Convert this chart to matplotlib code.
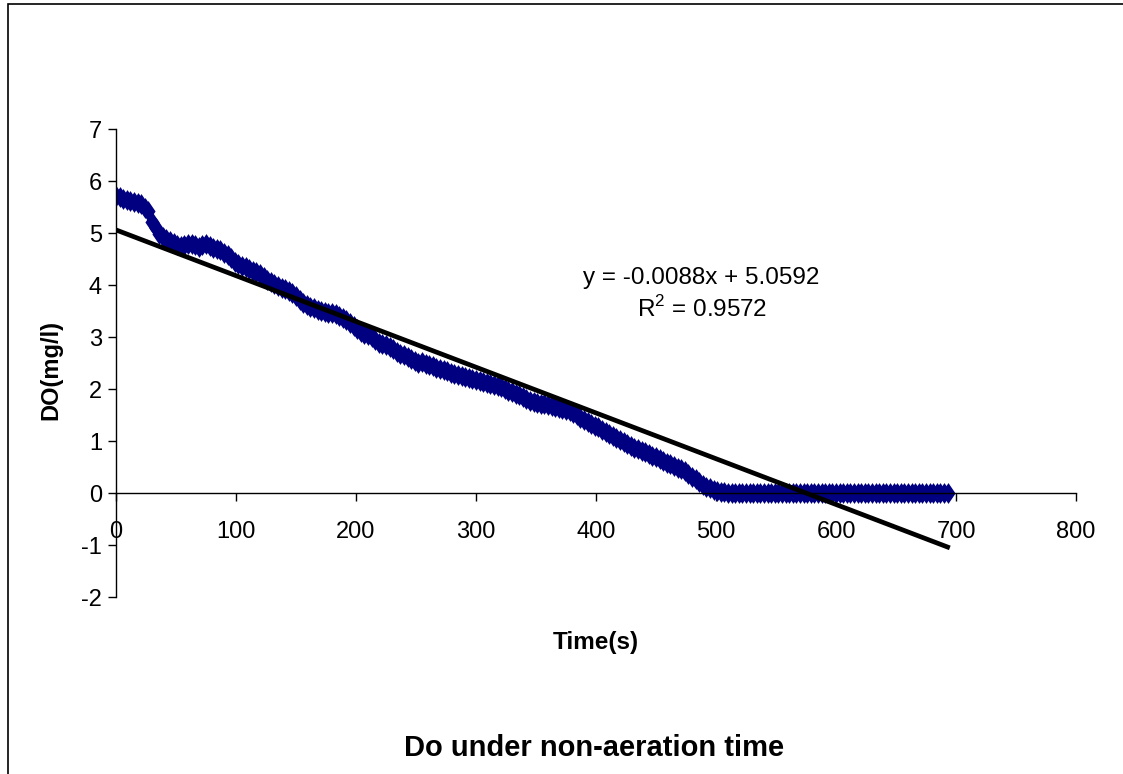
import numpy as np
import matplotlib
matplotlib.use('Agg')
import matplotlib.pyplot as plt
from matplotlib.path import Path
from matplotlib.patches import Rectangle

plt.rcParams['font.family'] = ['Liberation Sans', 'DejaVu Sans']
plt.rcParams['axes.unicode_minus'] = False
plt.rcParams['mathtext.fontset'] = 'custom'
plt.rcParams['mathtext.rm'] = 'Liberation Sans'

# 측정 시간 (3초 간격)
time_s = np.arange(0, 694, 3)

# DO 값 (mg/l) - 그림에서 읽은 값
do_mgl = [
    5.72, 5.69, 5.66, 5.64, 5.62, 5.60, 5.57, 5.55, 5.48, 5.42,
    5.22, 5.10, 4.98, 4.92, 4.88, 4.84, 4.80, 4.77, 4.75, 4.76,
    4.78, 4.78, 4.76, 4.74, 4.77, 4.79, 4.75, 4.72, 4.70, 4.68,
    4.62, 4.58, 4.52, 4.45, 4.40, 4.37, 4.34, 4.31, 4.27, 4.25,
    4.22, 4.16, 4.10, 4.05, 4.02, 3.98, 3.95, 3.92, 3.88, 3.85,
    3.78, 3.72, 3.66, 3.62, 3.58, 3.55, 3.52, 3.50, 3.48, 3.47,
    3.46, 3.44, 3.40, 3.36, 3.32, 3.27, 3.22, 3.16, 3.10, 3.06,
    3.04, 3.00, 2.94, 2.88, 2.86, 2.84, 2.80, 2.76, 2.72, 2.68,
    2.66, 2.62, 2.58, 2.54, 2.50, 2.52, 2.48, 2.46, 2.44, 2.41,
    2.39, 2.36, 2.34, 2.31, 2.29, 2.27, 2.25, 2.23, 2.21, 2.20,
    2.18, 2.16, 2.13, 2.11, 2.09, 2.07, 2.05, 2.03, 2.00, 1.97,
    1.94, 1.91, 1.88, 1.84, 1.80, 1.77, 1.75, 1.74, 1.72, 1.71,
    1.70, 1.68, 1.66, 1.64, 1.62, 1.60, 1.57, 1.54, 1.50, 1.45,
    1.40, 1.36, 1.32, 1.29, 1.26, 1.22, 1.18, 1.14, 1.10, 1.06,
    1.02, 0.98, 0.94, 0.90, 0.87, 0.84, 0.81, 0.78, 0.75, 0.72,
    0.70, 0.66, 0.62, 0.58, 0.55, 0.52, 0.49, 0.46, 0.42, 0.37,
    0.31, 0.26, 0.21, 0.16, 0.12, 0.09, 0.06, 0.04, 0.02, 0.01,
] + [0.0] * 62

# 추세선 (그림에 표시된 식)
slope = -0.0088
intercept = 5.0592
r2 = 0.9572

x_ticks = [0, 100, 200, 300, 400, 500, 600, 700, 800]
y_ticks = [-2, -1, 0, 1, 2, 3, 4, 5, 6, 7]

fig = plt.figure(figsize=(11.23, 7.74), dpi=100)
ax = fig.add_axes([116 / 1123, 177 / 774, 960 / 1123, 468 / 774])

# 바깥 테두리
fig.patches.append(Rectangle((7.5 / 1123, -0.01), 1.02, (770 / 774) + 0.01,
                             transform=fig.transFigure, fill=False,
                             edgecolor='black', linewidth=1.2))

# 엑셀 스타일 마름모 마커
diamond = Path([(0, 1), (0.68, 0), (0, -1), (-0.68, 0), (0, 1)])
ax.plot(time_s, do_mgl, linestyle='none', marker=diamond, markersize=15,
        color='#000080', markeredgewidth=0, zorder=2)

tx = np.array([time_s[0], time_s[-1]])
ax.plot(tx, slope * tx + intercept, color='black', linewidth=3.4, zorder=3)

ax.set_xlim(0, 800)
ax.set_ylim(-2, 7)
ax.set_xticks(x_ticks)
ax.set_yticks(y_ticks)

ax.spines['top'].set_visible(False)
ax.spines['right'].set_visible(False)
ax.spines['bottom'].set_position(('data', 0))
ax.spines['left'].set_linewidth(1)
ax.spines['bottom'].set_linewidth(1)
ax.tick_params(axis='x', direction='out', length=6, width=1, pad=14, labelsize=17)
ax.tick_params(axis='y', direction='out', length=6, width=1, pad=4, labelsize=17)

ax.text(488, 3.82, 'y = -0.0088x + 5.0592\nR$^2$ = 0.9572', ha='center', va='center',
        fontsize=17.5, linespacing=1.35)

ax.set_xlabel('Time(s)', fontsize=17.5, fontweight='bold')
ax.xaxis.set_label_coords(0.5, -0.072)
ax.set_ylabel('DO(mg/l)', fontsize=17, fontweight='bold', va='center')
ax.yaxis.set_label_coords(-0.068, 0.486)

fig.text(594 / 1123, 1 - 748 / 774, 'Do under non-aeration time', ha='center', va='center',
         fontsize=21, fontweight='bold')

plt.savefig('out.png', dpi=100)
